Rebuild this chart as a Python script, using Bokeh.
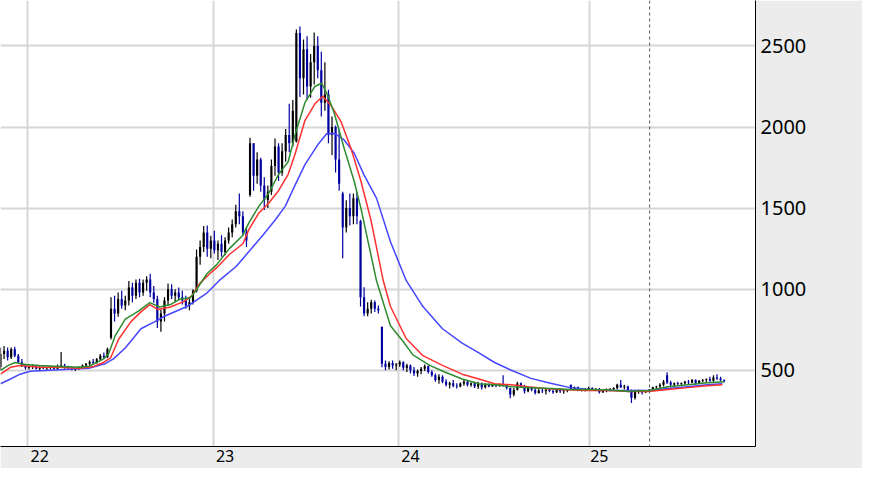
from bokeh.plotting import figure
from bokeh.models import Range1d, FixedTicker, Span, ColumnDataSource
from bokeh.embed import file_html
from bokeh.resources import INLINE

# ---- data (weekly OHLC bars, index = bar number) ----
bar_open = [
    520, 600, 620, 580, 630, 590, 550, 530, 515, 520,
    525, 510, 518, 512, 515, 520, 510, 525, 530, 520,
    515, 505, 512, 520, 530, 540, 552, 545, 568, 590,
    580, 700, 880, 850, 940, 900, 930, 1010, 960, 1040,
    980, 1040, 1060, 980, 940, 800, 850, 930, 1000, 960,
    980, 950, 930, 900, 920, 990, 1200, 1260, 1350, 1250,
    1300, 1240, 1280, 1230, 1300, 1350, 1400, 1480, 1450, 1350,
    1580, 1900, 1700, 1800, 1640, 1550, 1600, 1760, 1880, 1720,
    1850, 1950, 1900, 1910, 2580, 2300, 2480, 2250, 2400, 2500,
    2350, 2150, 2200, 1950, 2000, 1800, 1590, 1380, 1500, 1450,
    1560, 1420, 950, 850, 880, 920, 880, 768, 540, 520,
    545, 530, 535, 550, 515, 530, 500, 480, 495, 510,
    525, 490, 470, 440, 460, 430, 410, 420, 405, 400,
    418, 430, 410, 420, 400, 415, 395, 410, 400, 410,
    405, 412, 408, 390, 350, 380, 420, 400, 370, 390,
    380, 360, 375, 370, 380, 372, 365, 378, 370, 375,
    410, 385, 395, 375, 380, 385, 390, 380, 385, 365,
    375, 380, 385, 390, 410, 395, 400, 375, 330, 370,
    375, 365, 372, 380, 395, 400, 410, 470, 425, 410,
    420, 415, 420, 430, 425, 440, 420, 435, 440, 445,
    435, 455, 450, 440,
]
bar_high = [
    640, 650, 640, 640, 645, 600, 570, 540, 530, 535,
    530, 525, 530, 522, 528, 525, 535, 613, 540, 528,
    522, 518, 525, 535, 545, 560, 570, 575, 600, 610,
    640, 950, 960, 980, 990, 960, 1050, 1040, 1060, 1065,
    1060, 1080, 1095, 1020, 960, 875, 950, 1035, 1030, 1000,
    1010, 990, 960, 940, 1000, 1244, 1300, 1390, 1393, 1330,
    1360, 1300, 1333, 1320, 1380, 1430, 1520, 1590, 1480, 1380,
    1934, 1900, 1845, 1810, 1690, 1640, 1800, 1929, 1900, 1900,
    1988, 2143, 2167, 2601, 2619, 2540, 2560, 2450, 2583, 2560,
    2464, 2400, 2230, 2065, 2010, 1988, 1600, 1548, 1590, 1590,
    1600, 1428, 1012, 920, 935, 930, 900, 768, 560, 556,
    560, 545, 560, 555, 540, 536, 520, 505, 520, 536,
    530, 500, 480, 475, 470, 445, 430, 440, 420, 425,
    446, 440, 425, 430, 429, 425, 420, 418, 417, 415,
    417, 470, 410, 392, 390, 429, 425, 410, 400, 399,
    390, 385, 387, 385, 387, 380, 385, 387, 380, 385,
    411, 400, 400, 387, 390, 399, 395, 390, 390, 380,
    387, 390, 395, 417, 440, 410, 405, 381, 380, 381,
    380, 378, 385, 399, 405, 420, 440, 488, 435, 425,
    429, 425, 435, 440, 446, 445, 440, 446, 450, 460,
    470, 476, 460, 445,
]
bar_low = [
    500, 570, 560, 570, 580, 540, 520, 505, 505, 508,
    505, 500, 508, 500, 505, 505, 505, 515, 510, 505,
    498, 495, 502, 512, 520, 530, 540, 540, 560, 570,
    575, 690, 800, 830, 880, 870, 900, 920, 940, 950,
    960, 990, 950, 917, 760, 738, 800, 900, 940, 920,
    930, 905, 880, 870, 905, 980, 1150, 1230, 1200, 1190,
    1220, 1180, 1200, 1210, 1280, 1320, 1380, 1400, 1330, 1260,
    1570, 1607, 1650, 1600, 1488, 1500, 1580, 1700, 1667, 1700,
    1786, 1845, 1880, 1905, 2185, 2200, 2167, 2180, 2262, 2300,
    2065, 2100, 1900, 1827, 1720, 1607, 1190, 1350, 1393, 1400,
    1400, 893, 833, 833, 850, 860, 850, 518, 500, 505,
    510, 500, 520, 500, 490, 480, 465, 460, 476, 495,
    480, 460, 430, 417, 420, 400, 387, 395, 387, 395,
    405, 400, 399, 390, 385, 381, 388, 395, 399, 395,
    399, 400, 381, 327, 340, 375, 390, 357, 365, 370,
    351, 355, 360, 351, 365, 355, 360, 360, 355, 365,
    378, 380, 370, 369, 369, 380, 375, 370, 357, 360,
    365, 370, 375, 381, 390, 381, 370, 298, 320, 355,
    351, 360, 369, 375, 385, 390, 400, 415, 395, 399,
    405, 405, 410, 415, 420, 411, 415, 425, 425, 430,
    430, 440, 430, 425,
]
bar_close = [
    600, 620, 580, 630, 590, 550, 530, 515, 520, 525,
    510, 518, 512, 515, 520, 510, 525, 530, 520, 515,
    505, 512, 520, 530, 540, 552, 545, 568, 590, 580,
    630, 880, 850, 940, 900, 930, 1010, 960, 1040, 980,
    1040, 1060, 980, 940, 800, 850, 930, 1000, 960, 980,
    950, 930, 900, 920, 990, 1200, 1260, 1350, 1250, 1300,
    1240, 1280, 1230, 1300, 1350, 1400, 1480, 1450, 1350, 1300,
    1900, 1700, 1800, 1640, 1550, 1600, 1760, 1880, 1720, 1850,
    1950, 1900, 2100, 2580, 2300, 2480, 2250, 2400, 2500, 2350,
    2150, 2200, 1950, 2000, 1800, 1650, 1380, 1500, 1450, 1560,
    1450, 950, 850, 880, 920, 880, 870, 540, 520, 545,
    530, 535, 550, 515, 530, 500, 480, 495, 510, 525,
    490, 470, 440, 460, 430, 410, 420, 405, 400, 418,
    430, 410, 420, 400, 415, 395, 410, 400, 410, 405,
    412, 408, 390, 350, 380, 420, 400, 370, 390, 380,
    360, 375, 370, 380, 372, 365, 378, 370, 375, 380,
    385, 395, 375, 380, 385, 390, 380, 385, 365, 375,
    380, 385, 390, 410, 395, 400, 375, 330, 370, 375,
    365, 372, 380, 395, 400, 410, 430, 425, 410, 420,
    415, 420, 430, 425, 440, 420, 435, 440, 445, 435,
    455, 450, 440, 435,
]

# moving averages (sampled along the bar index)
ma_short_x = [0, 2.2, 4.1, 6.9, 11, 16.5, 22, 24.8, 27.5, 28.9,
              30.3, 32.2, 35, 38.6, 41.9, 44.6, 47.7, 50.4, 53.2, 55.1,
              57.9, 60.6, 64.2, 68, 69.7, 72.5, 75.2, 78, 80.7, 82.6,
              85.4, 88.2, 90.1, 91.7, 93.7, 96.4, 99.2, 101.1, 103.9, 105.5,
              109.4, 112.9, 115.7, 120.4, 124.8, 129.5, 134.2, 138.6, 143.3, 148.8,
              154.3, 159.8, 165.3, 170.8, 176.3, 181.8, 187.3, 192.8, 198.3, 203]
ma_short = [500, 530, 548, 535, 530, 524, 518, 525, 553, 570,
            600, 714, 815, 863, 917, 890, 905, 940, 946, 1000,
            1095, 1150, 1250, 1333, 1410, 1512, 1590, 1708, 1786, 1950,
            2150, 2250, 2270, 2200, 2080, 1869, 1667, 1500, 1214, 1050,
            774, 679, 595, 530, 488, 446, 417, 411, 399, 393,
            387, 381, 381, 378, 369, 375, 399, 411, 423, 429]

ma_mid_x = [0, 2.8, 5.5, 11, 16.5, 22, 26.2, 28.9, 30.9, 33.1,
            36.6, 39.4, 41.9, 44.1, 47.7, 51.5, 53.7, 55.9, 58.7, 60.6,
            64.2, 68, 69.7, 72.5, 75.2, 78, 80.7, 82.6, 85.4, 88.2,
            90.4, 92.8, 95.6, 98.3, 101.1, 103.9, 107.4, 109.4, 113.8, 118.5,
            124, 129.5, 134.2, 138.6, 143.3, 147.9, 154.3, 159.8, 165.3, 170.8,
            176.3, 181.8, 187.3, 192.8, 198.3, 202.5]
ma_mid = [476, 518, 530, 518, 518, 512, 524, 548, 577, 690,
          800, 860, 905, 875, 890, 925, 960, 1036, 1095, 1131,
          1214, 1280, 1369, 1470, 1530, 1607, 1708, 1830, 2040, 2143,
          2190, 2130, 2030, 1869, 1667, 1428, 1050, 893, 696, 590,
          530, 476, 446, 417, 411, 399, 384, 378, 375, 375,
          369, 369, 381, 393, 405, 411]

ma_long_x = [0, 2.8, 5.5, 8.3, 13.8, 19.3, 24.8, 27.5, 29.5, 31.7,
             35, 39.4, 43.3, 46, 52.3, 57.9, 61.4, 66.1, 69.7, 73.6,
             77.1, 79.9, 82.6, 85.4, 89, 91.5, 93.7, 96.4, 99.2, 101.9,
             105.5, 109.4, 113.8, 118.5, 124, 129.5, 134.2, 138.6, 143.3, 148.8,
             154.3, 159.8, 165.3, 170.8, 176.3, 181.8, 187.3, 192.8, 198.3, 202.5]
ma_long = [417, 446, 476, 494, 500, 506, 512, 530, 542, 570,
           637, 756, 800, 833, 893, 976, 1054, 1140, 1232, 1333,
           1428, 1512, 1640, 1768, 1890, 1958, 1960, 1920, 1840, 1708,
           1560, 1292, 1054, 893, 756, 667, 607, 548, 500, 450,
           420, 393, 381, 375, 375, 375, 387, 399, 411, 417]

year_labels = ["22", "23", "24", "25"]
year_start = [7.7, 59.8, 111.6, 165.3]     # bar index where each year begins
year_label_pos = [11, 63, 115, 168]         # label anchor (text sits right of grid line)
marker_pos = 182.1                          # dashed marker bar index
price_ticks = [500, 1000, 1500, 2000, 2500]

UP = "#000000"
DOWN = "#0000a0"

idx = list(range(len(bar_close)))
colors = [UP if c >= o else DOWN for o, c in zip(bar_open, bar_close)]
src = ColumnDataSource(dict(x=idx, o=bar_open, h=bar_high, l=bar_low,
                            c=bar_close, color=colors))

p = figure(width=862, height=468,
           x_range=Range1d(0, 211.8), y_range=Range1d(30, 2780),
           y_axis_location="right",
           output_backend="svg", toolbar_location=None,
           min_border_left=0, min_border_top=0,
           min_border_right=107, min_border_bottom=22)
p.border_fill_color = "#ececec"
p.background_fill_color = "#ffffff"
p.outline_line_color = None

# grids
p.xgrid.ticker = FixedTicker(ticks=year_start)
p.ygrid.ticker = FixedTicker(ticks=price_ticks)
for g in (p.xgrid, p.ygrid):
    g.grid_line_color = "#d6d6d6"
    g.grid_line_width = 2

# right price axis
ya = p.yaxis[0]
ya.ticker = FixedTicker(ticks=price_ticks)
ya.major_tick_out = 0
ya.major_tick_in = 0
ya.minor_tick_line_color = None
ya.axis_line_color = "#000000"
ya.axis_line_width = 1
ya.major_label_standoff = 5
ya.major_label_text_font = "Noto Sans"
ya.major_label_text_font_size = "20px"
ya.major_label_text_color = "#000000"

# bottom time axis
xa = p.xaxis[0]
xa.ticker = FixedTicker(ticks=year_label_pos)
xa.major_label_overrides = {pos: lab for pos, lab in zip(year_label_pos, year_labels)}
xa.major_tick_out = 0
xa.major_tick_in = 0
xa.minor_tick_line_color = None
xa.axis_line_color = "#000000"
xa.axis_line_width = 1
xa.major_label_standoff = 3
xa.major_label_text_font = "Noto Sans"
xa.major_label_text_font_size = "16px"
xa.major_label_text_color = "#000000"

# candles (thin bars)
p.segment(x0="x", y0="l", x1="x", y1="h", color="color", line_width=1.2, source=src)
p.vbar(x="x", top="o", bottom="c", width=0.6, fill_color="color",
       line_color=None, source=src)

# moving averages
p.line(ma_long_x, ma_long, line_color="#4646ff", line_width=1.5)
p.line(ma_mid_x, ma_mid, line_color="#ff3030", line_width=1.5)
p.line(ma_short_x, ma_short, line_color="#2e8b2e", line_width=1.5)

p.add_layout(Span(location=marker_pos, dimension="height", line_color="#555555",
                  line_width=1, line_dash="3 3"))

open("out.html", "w").write(file_html(p, INLINE))
